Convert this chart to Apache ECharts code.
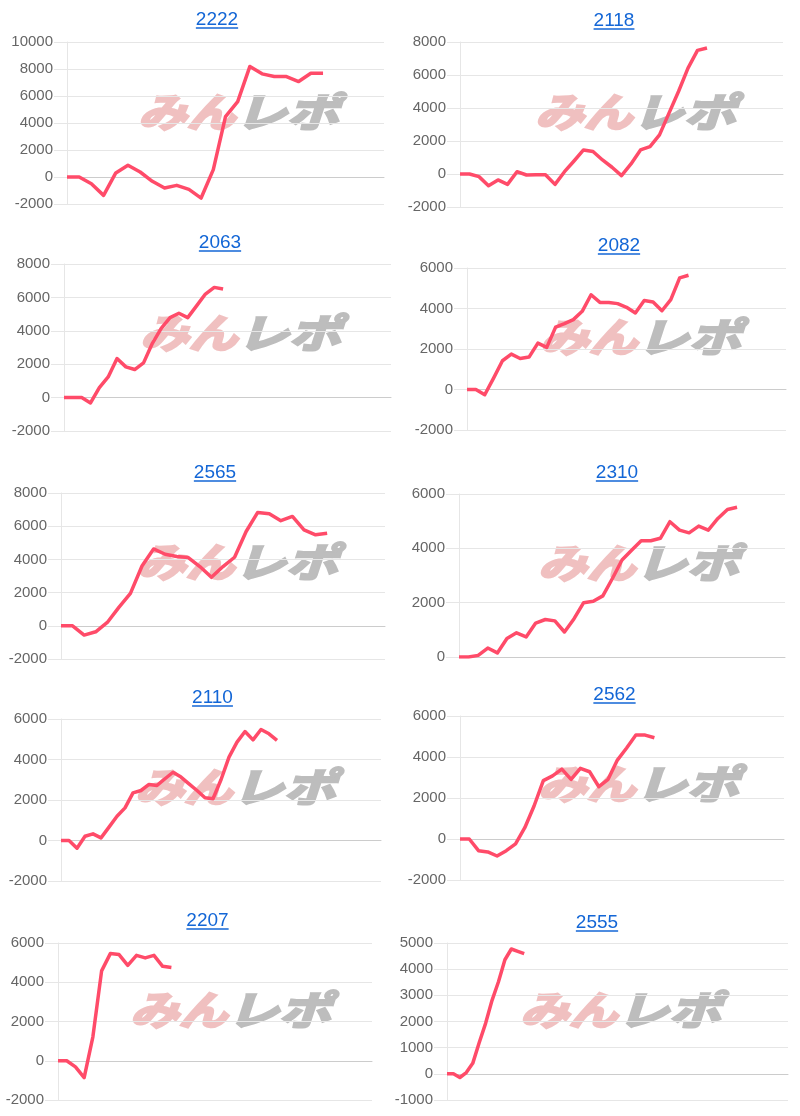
<!DOCTYPE html>
<html>
<head>
<meta charset="utf-8">
<script src="https://cdn.jsdelivr.net/npm/echarts@6/dist/echarts.min.js"></script>
<style>
  html, body { margin: 0; padding: 0; background: #fff; }
  #chart { width: 800px; height: 1116px; }
</style>
</head>
<body>
<div id="chart"></div>
<script>
// ---------- data ----------
const titles = ['2222', '2118', '2063', '2082', '2565', '2310', '2110', '2562', '2207', '2555'];

const s2222 = [0, 0, -500, -1360, 300, 870, 370, -320, -820, -620, -920, -1560, 550, 4470, 5580, 8190, 7640, 7440, 7440, 7070, 7690, 7690];
const s2118 = [0, 0, -160, -710, -360, -630, 140, -60, -40, -40, -630, 140, 790, 1460, 1360, 850, 410, -100, 610, 1460, 1660, 2370, 3690, 5000, 6420, 7490, 7640];
const s2063 = [0, 0, 0, -320, 600, 1240, 2340, 1840, 1680, 2080, 3250, 4150, 4790, 5050, 4790, 5490, 6200, 6600, 6500];
const s2082 = [0, 0, -260, 560, 1420, 1750, 1530, 1600, 2290, 2080, 3080, 3250, 3450, 3860, 4680, 4300, 4300, 4240, 4060, 3780, 4390, 4320, 3890, 4440, 5510, 5640];
const s2565 = [0, 0, -560, -360, 200, 1110, 1950, 3600, 4630, 4310, 4170, 4110, 3570, 2920, 3570, 4130, 5680, 6830, 6750, 6330, 6590, 5780, 5480, 5580];
const s2310 = [0, 0, 60, 330, 150, 680, 890, 740, 1250, 1380, 1330, 920, 1410, 2000, 2050, 2250, 2890, 3570, 3930, 4280, 4280, 4370, 4980, 4670, 4570, 4820, 4670, 5100, 5430, 5510];
const s2110 = [0, 0, -380, 210, 330, 130, 660, 1200, 1610, 2350, 2470, 2770, 2720, 3050, 3370, 3130, 2800, 2470, 2110, 2060, 3000, 4120, 4860, 5380, 4970, 5480, 5270, 4940];
const s2562 = [0, 0, -570, -630, -830, -570, -240, 550, 1610, 2850, 3080, 3410, 2910, 3450, 3280, 2550, 2910, 3850, 4440, 5070, 5070, 4940];
const s2207 = [0, 0, -310, -860, 1220, 4580, 5460, 5410, 4860, 5370, 5240, 5370, 4810, 4750];
const s2555 = [0, 0, -140, 50, 400, 1190, 1930, 2810, 3520, 4360, 4770, 4680, 4590];

const seriesValues = [s2222, s2118, s2063, s2082, s2565, s2310, s2110, s2562, s2207, s2555];

// number of x categories (sessions) on each panel's axis
const categoryCounts = [27, 35, 38, 37, 29, 35, 41, 36, 37, 54];

// y-axis tick ranges
const yMins = [-2000, -2000, -2000, -2000, -2000, 0, -2000, -2000, -2000, -1000];
const yMaxs = [10000, 8000, 8000, 6000, 8000, 6000, 6000, 6000, 6000, 5000];
const ySteps = [2000, 2000, 2000, 2000, 2000, 2000, 2000, 2000, 2000, 1000];

// ---------- layout (pixels) ----------
const plots = [
  { l: 67, t: 42, w: 317, h: 162 },
  { l: 460, t: 42, w: 323, h: 165 },
  { l: 64, t: 264, w: 327, h: 167 },
  { l: 467, t: 268, w: 319, h: 162 },
  { l: 61, t: 493, w: 324, h: 166 },
  { l: 459, t: 494, w: 326, h: 163 },
  { l: 61, t: 719, w: 320, h: 162 },
  { l: 460, t: 716, w: 324, h: 164 },
  { l: 58, t: 943, w: 314, h: 157 },
  { l: 447, t: 943, w: 341, h: 157 }
];
const titlePos = [
  [217, 12], [614, 13], [220, 235], [619, 238], [215, 465],
  [617, 465], [212.5, 690], [614.5, 687], [207.5, 913], [597, 915]
];
const markPos = [
  [138, 97], [535, 97], [140, 318], [540, 322], [137, 547],
  [538, 548], [135, 772], [538, 769], [130, 995], [520, 995]
];

const FONT = '"Liberation Sans", Arial, Helvetica, sans-serif';
const LINE = '#ff4b69';
const GRIDC = '#e6e6e6';

const measure = (() => {
  const c = document.createElement('canvas').getContext('2d');
  return (txt, font) => { c.font = font; return c.measureText(txt).width; };
})();

const grid = [], xAxis = [], yAxis = [], series = [], graphic = [];

const pinkMark = '#f0c0c0';
const grayMark = '#bdbdbd';
const markFont = 'italic bold 40px "Noto Sans CJK JP"';

titles.forEach((name, i) => {
  const p = plots[i];
  grid.push({ left: p.l, top: p.t, width: p.w, height: p.h, containLabel: false });
  const cats = Array.from({ length: categoryCounts[i] }, (_, k) => String(k + 1));
  xAxis.push({
    type: 'category', gridIndex: i, data: cats, boundaryGap: false,
    axisLabel: { show: false }, axisTick: { show: false },
    axisLine: { show: true, onZero: true, lineStyle: { color: '#cccccc', width: 1 } },
    splitLine: { show: false }
  });
  yAxis.push({
    type: 'value', gridIndex: i, min: yMins[i], max: yMaxs[i], interval: ySteps[i],
    axisLine: { show: true, lineStyle: { color: GRIDC } },
    axisTick: { show: true, length: 13, lineStyle: { color: GRIDC } },
    axisLabel: { color: '#666', fontSize: 15, margin: 14, fontFamily: FONT,
                 formatter: v => String(v) },
    splitLine: { show: true, lineStyle: { color: GRIDC, width: 1 } }
  });
  series.push({
    type: 'line', name: name, xAxisIndex: i, yAxisIndex: i,
    data: seriesValues[i], symbol: 'none', smooth: false, z: 10,
    lineStyle: { color: LINE, width: 3.5, join: 'round' },
    itemStyle: { color: LINE }, silent: true
  });

  // title (link style)
  const [cx, ty] = titlePos[i];
  const tf = '19px ' + FONT;
  const tw = measure(name, tf);
  graphic.push({
    type: 'text', x: cx, y: ty - 2, z: 20,
    style: { text: name, fill: '#1366d6', font: tf, textAlign: 'center', textVerticalAlign: 'top' }
  });
  graphic.push({
    type: 'line', z: 20,
    shape: { x1: cx - tw / 2, y1: ty + 16, x2: cx + tw / 2, y2: ty + 16 },
    style: { stroke: '#1366d6', lineWidth: 1.5 }
  });

  // watermark logo (drawn below the line)
  const [mx, my] = markPos[i];
  graphic.push({
    type: 'text', x: mx, y: my - 5, z: -1, scaleX: 1.22, silent: true,
    style: { text: 'みん', fill: pinkMark, stroke: pinkMark, lineWidth: 2.5, font: markFont, textVerticalAlign: 'top' }
  });
  graphic.push({
    type: 'text', x: mx + 97, y: my - 5, z: -1, scaleX: 1.3, silent: true,
    style: { text: 'レポ', fill: grayMark, stroke: grayMark, lineWidth: 2.5, font: markFont, textVerticalAlign: 'top' }
  });
});

const chart = echarts.init(document.getElementById('chart'), null, { renderer: 'canvas' });
chart.setOption({
  animation: false,
  backgroundColor: '#ffffff',
  grid, xAxis, yAxis, series, graphic
});
</script>
</body>
</html>
